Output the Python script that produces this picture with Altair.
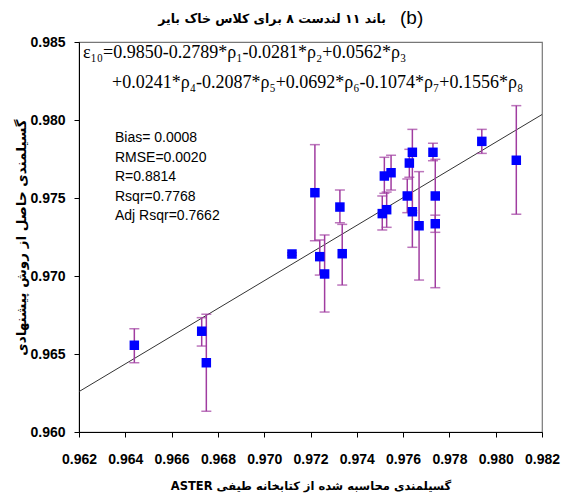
import altair as alt
import pandas as pd

# measured (x) vs estimated (y) emissivity with error-bar ends
x_vals = [0.96439, 0.96730, 0.96750, 0.97120, 0.97240, 0.97261, 0.97219, 0.97327,
          0.97337, 0.97510, 0.97529, 0.97519, 0.97548, 0.97618, 0.97627, 0.97640,
          0.97640, 0.97669, 0.97729, 0.97739, 0.97739, 0.97940, 0.98089]
y_vals = [0.96556, 0.96646, 0.96444, 0.97141, 0.97124, 0.97013, 0.97534, 0.97442,
          0.97143, 0.97400, 0.97425, 0.97641, 0.97662, 0.97513, 0.97724, 0.97793,
          0.97412, 0.97322, 0.97793, 0.97513, 0.97335, 0.97863, 0.97742]
y_lo = [0.96444, 0.96551, 0.96133, 0.97133, 0.97006, 0.96769, 0.97226, 0.97342,
        0.96942, 0.97295, 0.97312, 0.97530, 0.97551, 0.97406, 0.97633, 0.97184,
        0.97405, 0.96974, 0.97739, 0.96925, 0.97280, 0.97786, 0.97396]
y_hi = [0.96662, 0.96733, 0.96755, 0.97149, 0.97231, 0.97263, 0.97842, 0.97551,
        0.97331, 0.97513, 0.97538, 0.97761, 0.97774, 0.97622, 0.97812, 0.97940,
        0.97419, 0.97669, 0.97851, 0.97748, 0.97390, 0.97940, 0.98092]

# regression line end points
fit_x = [0.962, 0.982]
fit_y = [0.96259, 0.98035]

x_ticks = [0.962, 0.964, 0.966, 0.968, 0.970, 0.972, 0.974, 0.976, 0.978, 0.980, 0.982]
y_ticks = [0.960, 0.965, 0.970, 0.975, 0.980, 0.985]

title_fa = "باند ۱۱ لندست ۸ برای کلاس خاک بایر"
title_tag = "(b)"
x_title = "ASTER گسیلمندی محاسبه شده از کتابخانه طیفی"
y_title = "گسیلمندی حاصل از روش پیشنهادی"
eq_line1 = "ε₁₀=0.9850-0.2789*ρ₁-0.0281*ρ₂+0.0562*ρ₃"
eq_line2 = "+0.0241*ρ₄-0.2087*ρ₅+0.0692*ρ₆-0.1074*ρ₇+0.1556*ρ₈"
stats = ["Bias= 0.0008", "RMSE=0.0020", "R=0.8814", "Rsqr=0.7768", "Adj Rsqr=0.7662"]

df = pd.DataFrame({"x": x_vals, "y": y_vals, "lo": y_lo, "hi": y_hi})
fit = pd.DataFrame({"x": fit_x, "y": fit_y})

xs = alt.Scale(domain=[0.962, 0.982], nice=False, zero=False)
ys = alt.Scale(domain=[0.960, 0.985], nice=False, zero=False)

FONT = "Liberation Sans"
xaxis = alt.Axis(values=x_ticks, format=".3f", title=x_title, grid=False,
                 labelFont=FONT, labelFontSize=14, labelFontWeight="bold",
                 labelColor="black", tickColor="black", domainColor="black",
                 tickSize=5, labelPadding=15, titleFont="DejaVu Sans",
                 titleFontSize=11.5, titleFontWeight="bold", titleColor="black",
                 titlePadding=14, labelFlush=False)
yaxis = alt.Axis(values=y_ticks, format=".3f", title=y_title, grid=False,
                 labelFont=FONT, labelFontSize=14, labelFontWeight="bold",
                 labelColor="black", tickColor="black", domainColor="black",
                 tickSize=5, labelPadding=9, titleFont="DejaVu Sans",
                 titleFontSize=13.5, titleFontWeight="bold", titleColor="black",
                 titlePadding=1, labelFlush=False)

line = alt.Chart(fit).mark_line(color="#333333", strokeWidth=1, clip=True).encode(
    x=alt.X("x:Q", scale=xs, axis=xaxis),
    y=alt.Y("y:Q", scale=ys, axis=yaxis),
)

bars = alt.Chart(df).mark_rule(color="#A03CA0", strokeWidth=1.5).encode(
    x=alt.X("x:Q", scale=xs), y=alt.Y("lo:Q", scale=ys), y2="hi:Q"
)
cap_lo = alt.Chart(df).mark_tick(color="#A03CA0", orient="horizontal", size=10,
                                 thickness=1.5).encode(
    x=alt.X("x:Q", scale=xs), y=alt.Y("lo:Q", scale=ys)
)
cap_hi = alt.Chart(df).mark_tick(color="#A03CA0", orient="horizontal", size=10,
                                 thickness=1.5).encode(
    x=alt.X("x:Q", scale=xs), y=alt.Y("hi:Q", scale=ys)
)
pts = alt.Chart(df).mark_square(color="#0000FF", opacity=1, size=90).encode(
    x=alt.X("x:Q", scale=xs), y=alt.Y("y:Q", scale=ys)
)

eq1 = alt.Chart(pd.DataFrame({"t": [eq_line1]})).mark_text(
    align="left", baseline="alphabetic", font="Liberation Serif", fontSize=18,
    color="black").encode(text="t:N", x=alt.value(4), y=alt.value(16))
eq2 = alt.Chart(pd.DataFrame({"t": [eq_line2]})).mark_text(
    align="left", baseline="alphabetic", font="Liberation Serif", fontSize=18,
    color="black").encode(text="t:N", x=alt.value(33), y=alt.value(46))
st = alt.Chart(pd.DataFrame({"t": [stats]})).mark_text(
    align="left", baseline="middle", font=FONT, fontSize=14, lineHeight=19.5,
    color="black").encode(text="t:N", x=alt.value(36), y=alt.value(96))

t_fa = alt.Chart(pd.DataFrame({"t": [title_fa]})).mark_text(
    align="right", baseline="middle", font="DejaVu Sans", fontSize=12.5,
    fontWeight="bold", color="black").encode(
    text="t:N", x=alt.value(307), y=alt.value(-23))
t_tag = alt.Chart(pd.DataFrame({"t": [title_tag]})).mark_text(
    align="left", baseline="middle", font=FONT, fontSize=19,
    color="black").encode(text="t:N", x=alt.value(321), y=alt.value(-24))

chart = alt.layer(line, bars, cap_lo, cap_hi, pts, eq1, eq2, st, t_fa, t_tag).properties(
    width=463, height=390,
    autosize=alt.AutoSizeParams(type="none"),
    padding={"left": 79, "top": 42, "right": 21, "bottom": 61},
).configure_view(stroke="#777777", strokeWidth=1.2)

chart.save("out.html", embed_options={"renderer": "svg", "actions": False})
